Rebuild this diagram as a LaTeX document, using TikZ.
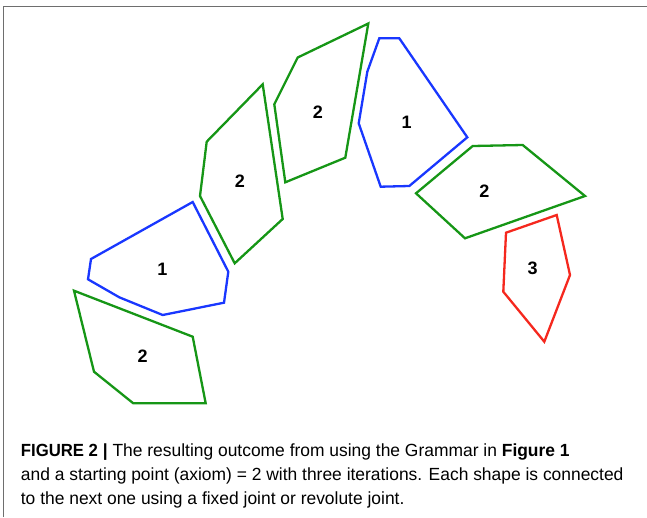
\documentclass[tikz,border=0pt]{standalone}
\usepackage{fontspec}
\setmainfont{Liberation Sans}
\newfontfamily\capfont[FakeStretch=0.99, BoldFeatures={FakeStretch=0.99}]{Liberation Sans}
\newfontfamily\figfont[FakeStretch=0.95, BoldFeatures={FakeStretch=0.95}]{Liberation Sans}
\definecolor{pgreen}{RGB}{22,150,22}
\definecolor{pblue}{RGB}{25,55,255}
\definecolor{pred}{RGB}{245,40,30}
\definecolor{framegray}{RGB}{110,110,110}
\tikzset{
  shapeline/.style={line width=2.3pt, line join=miter},
  gshape/.style={shapeline, draw=pgreen},
  bshape/.style={shapeline, draw=pblue},
  rshape/.style={shapeline, draw=pred},
  lbl/.style={font=\fontsize{18}{18}\selectfont\bfseries, inner sep=0pt},
  frameline/.style={draw=framegray, line width=1.5pt}
}
\begin{document}
\begin{tikzpicture}[x=1pt,y=-1pt]
\useasboundingbox (0,0) rectangle (647,517);
% frame
\draw[frameline] (3.5,517) -- (3.5,6.5) -- (647,6.5);
% bottom-left green 2
\draw[gshape] (74,290.7) -- (192.7,336.7) -- (205.7,403.3) -- (133.3,403.3) -- (94,371.7) -- cycle;
\node[lbl] (l2a) at (142.7,356.7) {2};
% blue 1 left
\draw[bshape] (192.7,202) -- (228.3,271.7) -- (224,302.7) -- (162.7,315) -- (119.3,297.3) -- (88,279.3) -- (91,259) -- cycle;
\node[lbl] (l1a) at (162.3,269.3) {1};
% middle-left green 2
\draw[gshape] (262.7,84.3) -- (282.7,219) -- (234.7,263.3) -- (200,196) -- (206.7,141.7) -- cycle;
\node[lbl] (l2b) at (240,181) {2};
% upper green 2
\draw[gshape] (368.3,23.5) -- (345.3,157.7) -- (285.3,182.3) -- (274.3,104.3) -- (297.7,57.5) -- cycle;
\node[lbl] (l2c) at (318,112.5) {2};
% blue 1 right
\draw[bshape] (379.3,38.3) -- (399.3,38.3) -- (467.3,137.3) -- (409.3,186) -- (380.7,186.7) -- (358.7,123.3) -- (367.3,71.7) -- cycle;
\node[lbl] (l1b) at (406.7,122.7) {1};
% right green 2
\draw[gshape] (472.7,146) -- (522.7,145) -- (585,196) -- (465,238.3) -- (416,193.3) -- cycle;
\node[lbl] (l2d) at (484.3,191) {2};
% red 3
\draw[rshape] (556.7,215) -- (570,275) -- (544.3,341.7) -- (503.3,291.7) -- (506,232.7) -- cycle;
\node[lbl] (l3) at (532.7,268.3) {3};
% caption (base anchor = baseline of last line)
\node[anchor=base west, inner sep=0pt, align=left,
      font=\capfont\fontsize{17.6}{23.7}\selectfont] (cap) at (20.7,504.3)
  {{\figfont\textbf{FIGURE 2}} \textbf{|} The resulting outcome from using the Grammar in \textbf{Figure 1}\\
   and a starting point (axiom) = 2 with three iterations. Each shape is connected\\
   to the next one using a fixed joint or revolute joint.};
\end{tikzpicture}
\end{document}
